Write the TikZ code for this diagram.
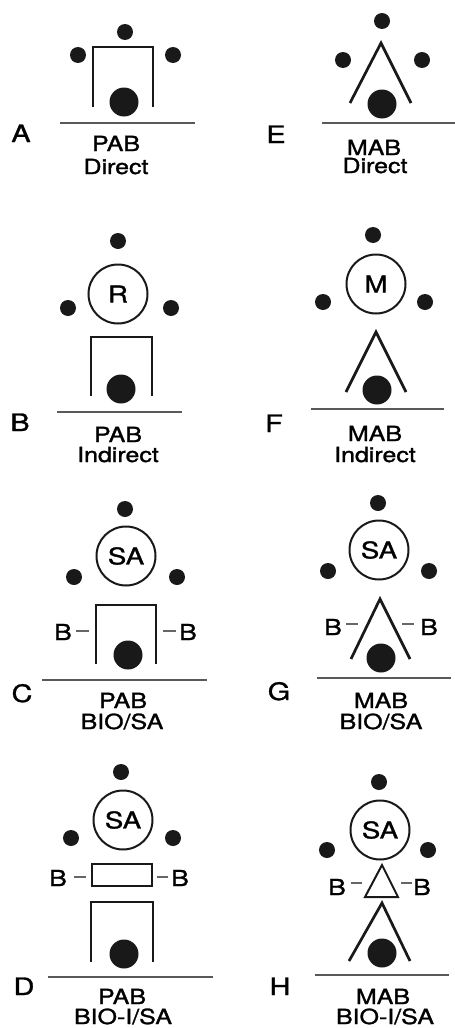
\documentclass[tikz,border=0pt]{standalone}
\usepackage{fontspec}
\setmainfont{TeX Gyre Heros}[FakeBold=1.2]
\newcommand\hs[1]{\scalebox{1.2}[1]{#1}}
\begin{document}
\begin{tikzpicture}[x=0.5pt,y=-0.5pt,
  sdot/.style={circle,fill=black!90,inner sep=0pt,minimum size=8pt},
  bdot/.style={circle,fill=black!90,inner sep=0pt,minimum size=14.5pt},
  ring/.style={circle,draw=black!90,line width=1pt,inner sep=0pt,minimum size=29.5pt,
    font=\fontsize{11.5}{13}\selectfont},
  arm/.style={draw=black!90,line width=1.35pt},
  thin arm/.style={draw=black!90,line width=1pt},
  rulel/.style={draw=black!65,line width=0.8pt},
  tick/.style={draw=black!60,line width=0.7pt},
  lett/.style={anchor=base,inner sep=0pt,font=\fontsize{12}{14}\selectfont},
  sub/.style={anchor=base,inner sep=0pt,font=\fontsize{10.4}{12}\selectfont},
  blab/.style={inner sep=0pt,font=\fontsize{11}{13}\selectfont}]
\useasboundingbox (0,0) rectangle (455,1028);

% ---------- A ----------
\node[sdot] (a1) at (125,32) {};
\node[sdot] (a2) at (78,55) {};
\node[sdot] (a3) at (173,55) {};
\node[bdot] (a4) at (124,102) {};
\draw[arm] (93,107) -- (93,47) -- (153,47) -- (153,107);
\draw[rulel] (60,123) -- (195,123);
\node[lett] (aL) at (21,142) {\hs{A}};
\node[sub] (aS1) at (116,151) {\hs{PAB}};
\node[sub] (aS2) at (116,174) {\hs{Direct}};

% ---------- E ----------
\node[sdot] (e1) at (382,21) {};
\node[sdot] (e2) at (343,60) {};
\node[sdot] (e3) at (422,60) {};
\node[bdot] (e4) at (382,104) {};
\draw[arm] (350,103) -- (381,43) -- (411,103);
\draw[rulel] (322,123) -- (455,123);
\node[lett] (eL) at (276,143) {\hs{E}};
\node[sub] (eS1) at (374,155) {\hs{MAB}};
\node[sub] (eS2) at (375,173) {\hs{Direct}};

% ---------- B ----------
\node[sdot] (b1) at (118,241) {};
\node[ring] (bR) at (118,294) {\hs{R}};
\node[sdot] (b2) at (68,308) {};
\node[sdot] (b3) at (171,308) {};
\node[bdot] (b4) at (121,389) {};
\draw[arm] (91,396) -- (91,337) -- (152,337) -- (152,396);
\draw[rulel] (57,412) -- (182,412);
\node[lett] (bL) at (20,431) {\hs{B}};
\node[sub] (bS1) at (118,442) {\hs{PAB}};
\node[sub] (bS2) at (118,462) {\hs{Indirect}};

% ---------- F ----------
\node[sdot] (f1) at (373,235) {};
\node[ring] (fM) at (376,284) {\hs{M}};
\node[sdot] (f2) at (323,302) {};
\node[sdot] (f3) at (425,302) {};
\node[bdot] (f4) at (377,390) {};
\draw[arm] (346,392) -- (376,332) -- (406,392);
\draw[rulel] (311,409) -- (444,409);
\node[lett] (fL) at (274,432) {\hs{F}};
\node[sub] (fS1) at (375,441) {\hs{MAB}};
\node[sub] (fS2) at (375,462) {\hs{Indirect}};

% ---------- C ----------
\node[sdot] (c1) at (125,509) {};
\node[ring] (cR) at (126,556) {\hs{SA}};
\node[sdot] (c2) at (74,577) {};
\node[sdot] (c3) at (177,577) {};
\node[bdot] (c4) at (128,655) {};
\draw[arm] (96,664) -- (96,605) -- (156,605) -- (156,664);
\node[blab] (cB1) at (63,632) {\hs{B}};
\node[blab] (cB2) at (188,632) {\hs{B}};
\draw[tick] (76,631) -- (89,631);
\draw[tick] (163,631) -- (176,631);
\draw[rulel] (42,680) -- (207,680);
\node[lett] (cL) at (22,702) {\hs{C}};
\node[sub] (cS1) at (123,708) {\hs{PAB}};
\node[sub] (cS2) at (122,729) {\hs{BIO/SA}};

% ---------- G ----------
\node[sdot] (g1) at (378,503) {};
\node[ring] (gR) at (379,550) {\hs{SA}};
\node[sdot] (g2) at (328,571) {};
\node[sdot] (g3) at (429,571) {};
\node[bdot] (g4) at (381,658) {};
\draw[arm] (351,659) -- (380,599) -- (410,659);
\node[blab] (gB1) at (333,627) {\hs{B}};
\node[blab] (gB2) at (429,627) {\hs{B}};
\draw[tick] (346,624) -- (358,624);
\draw[tick] (402,624) -- (414,624);
\draw[rulel] (317,678) -- (451,678);
\node[lett] (gL) at (279,700) {\hs{G}};
\node[sub] (gS1) at (381,708) {\hs{MAB}};
\node[sub] (gS2) at (381,729) {\hs{BIO/SA}};

% ---------- D ----------
\node[sdot] (d1) at (121,772) {};
\node[ring] (dR) at (123,820) {\hs{SA}};
\node[sdot] (d2) at (71,838) {};
\node[sdot] (d3) at (173,838) {};
\draw[thin arm] (92,864) rectangle (152,886);
\node[blab] (dB1) at (58,878) {\hs{B}};
\node[blab] (dB2) at (180,878) {\hs{B}};
\draw[tick] (74,877) -- (86,877);
\draw[tick] (157,877) -- (168,877);
\node[bdot] (d4) at (124,954) {};
\draw[arm] (91,962) -- (91,902) -- (153,902) -- (153,962);
\draw[rulel] (48,977) -- (213,977);
\node[lett] (dL) at (24,995) {\hs{D}};
\node[sub] (dS1) at (122,1004) {\hs{PAB}};
\node[sub] (dS2) at (123,1024) {\hs{BIO-I/SA}};

% ---------- H ----------
\node[sdot] (h1) at (379,782) {};
\node[ring] (hR) at (380,830) {\hs{SA}};
\node[sdot] (h2) at (327,850) {};
\node[sdot] (h3) at (428,850) {};
\draw[thin arm,line join=miter] (382,865) -- (365,897) -- (398,897) -- cycle;
\node[blab] (hB1) at (337,887) {\hs{B}};
\node[blab] (hB2) at (422,887) {\hs{B}};
\draw[tick] (351,883) -- (362,883);
\draw[tick] (401,883) -- (412,883);
\node[bdot] (h4) at (382,953) {};
\draw[arm] (349,961) -- (382,903) -- (410,961);
\draw[rulel] (315,975) -- (449,975);
\node[lett] (hL) at (280,995) {\hs{H}};
\node[sub] (hS1) at (383,1004) {\hs{MAB}};
\node[sub] (hS2) at (385,1024) {\hs{BIO-I/SA}};
\end{tikzpicture}
\end{document}
